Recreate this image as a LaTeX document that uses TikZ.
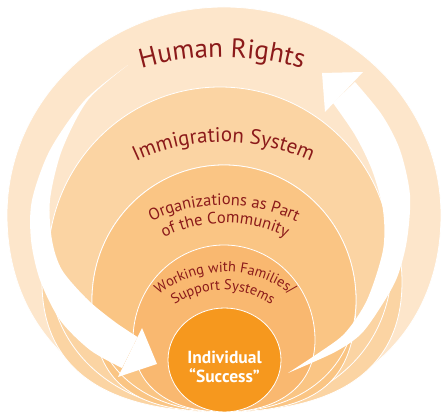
\documentclass[tikz,border=0pt]{standalone}
\usepackage{fontspec}
\setmainfont{PT Sans}
\usetikzlibrary{decorations.text, shapes.geometric}

\definecolor{outerc}{HTML}{FDE6CB}
\definecolor{immigc}{HTML}{FBD4A3}
\definecolor{orgc}{HTML}{FAC584}
\definecolor{workc}{HTML}{F9B870}
\definecolor{indivc}{HTML}{F6981E}
\definecolor{labelc}{HTML}{8B1A1A}

% egg shaped ring: centre x, widest y, half width, top y, bottom fullness
\newcommand{\blob}[5]{({#1-#3},#2) .. controls ({#1-#3},{#2+0.552*(#4-#2)}) and ({#1-0.552*#3},#4) .. (#1,#4)
  .. controls ({#1+0.552*#3},#4) and ({#1+#3},{#2+0.552*(#4-#2)}) .. ({#1+#3},#2)
  .. controls ({#1+#3},{#2-#5*(#2-3)}) and ({#1+#5*#3},3) .. (#1,3)
  .. controls ({#1-#5*#3},3) and ({#1-#3},{#2-#5*(#2-3)}) .. cycle}

\begin{document}
\begin{tikzpicture}[x=1pt, y=1pt,
    ring/.style = {draw=white, line width=0.8pt},
    sweep/.style = {fill=white},
    arclabel/.style = {decorate, decoration={text along path, text align=center, text={#1}}}]
  \useasboundingbox (0,0) rectangle (442,415);

  % the rings, all touching at the bottom
  \path[ring, fill=outerc] \blob{224}{200}{217}{408}{0.6};
  \path[ring, fill=immigc] \blob{222}{133}{180}{305}{0.66};
  \path[ring, fill=immigc] \blob{220}{153}{172}{328}{0.6};
  \path[ring, fill=orgc] \blob{224}{115}{132}{250}{0.72};
  \path[ring, fill=orgc] \blob{224}{115}{132}{250}{0.6};
  \path[ring, fill=workc] \blob{224}{75}{91}{170}{0.62};
  \node[ring, fill=indivc, ellipse, minimum width=113pt, minimum height=104pt, inner sep=0pt] (individual) at (224.5,55) {};

  % left sweep, down to the individual
  \fill[sweep] plot[smooth] coordinates {(128,350) (85,315) (50,265) (32,215) (31,175) (40,135) (60,95) (90,65) (122,47)}
    -- plot[smooth] coordinates {(137.5,78) (115,93) (88,115) (62,145) (52,175) (50,215) (62,265) (88,315) (128,350)} -- cycle;
  \fill[sweep] (157,51) -- (142,87) -- (118,38) -- cycle;

  % right sweep, up to human rights
  \fill[sweep] plot[smooth] coordinates {(288,42) (320,63) (345,82) (367,115) (383,165) (383,205) (372,245) (355,280) (333,312)}
    -- plot[smooth] coordinates {(355,333) (382,300) (400,265) (410,220) (407,175) (398,140) (385,115) (362,82) (335,63) (288,42)} -- cycle;
  \fill[sweep] (322,342) -- (363,343) -- (325,303) -- cycle;

  % labels along the rings
  \path[arclabel={|\fontsize{27}{30}\selectfont\color{labelc}|Human Rights}]
    (222,68) ++(120:290) arc[start angle=120, end angle=60, radius=290];
  \path[arclabel={|\fontsize{21}{24}\selectfont\color{labelc}|Immigration System}]
    (223.5,67) ++(130:206) arc[start angle=130, end angle=50, radius=206];
  \path[arclabel={|\fontsize{16.5}{19}\selectfont\color{labelc}|Organizations as Part}]
    (224,41) ++(140:169) arc[start angle=140, end angle=40, radius=169];
  \path[arclabel={|\fontsize{16.5}{19}\selectfont\color{labelc}|of the Community}]
    (225,55) ++(150:137) arc[start angle=150, end angle=30, radius=137];
  \path[arclabel={|\fontsize{14.4}{17}\selectfont\color{labelc}|Working with Families/}]
    (225,35) ++(160:108) arc[start angle=160, end angle=20, radius=108];
  \path[arclabel={|\fontsize{14.4}{17}\selectfont\color{labelc}|Support Systems}]
    (223,39) ++(160:86) arc[start angle=160, end angle=20, radius=86];

  \node[text=white, font=\fontsize{17.5}{18.5}\selectfont\bfseries, align=center] (success) at (224.5,48) {Individual\\“Success”};
\end{tikzpicture}
\end{document}
